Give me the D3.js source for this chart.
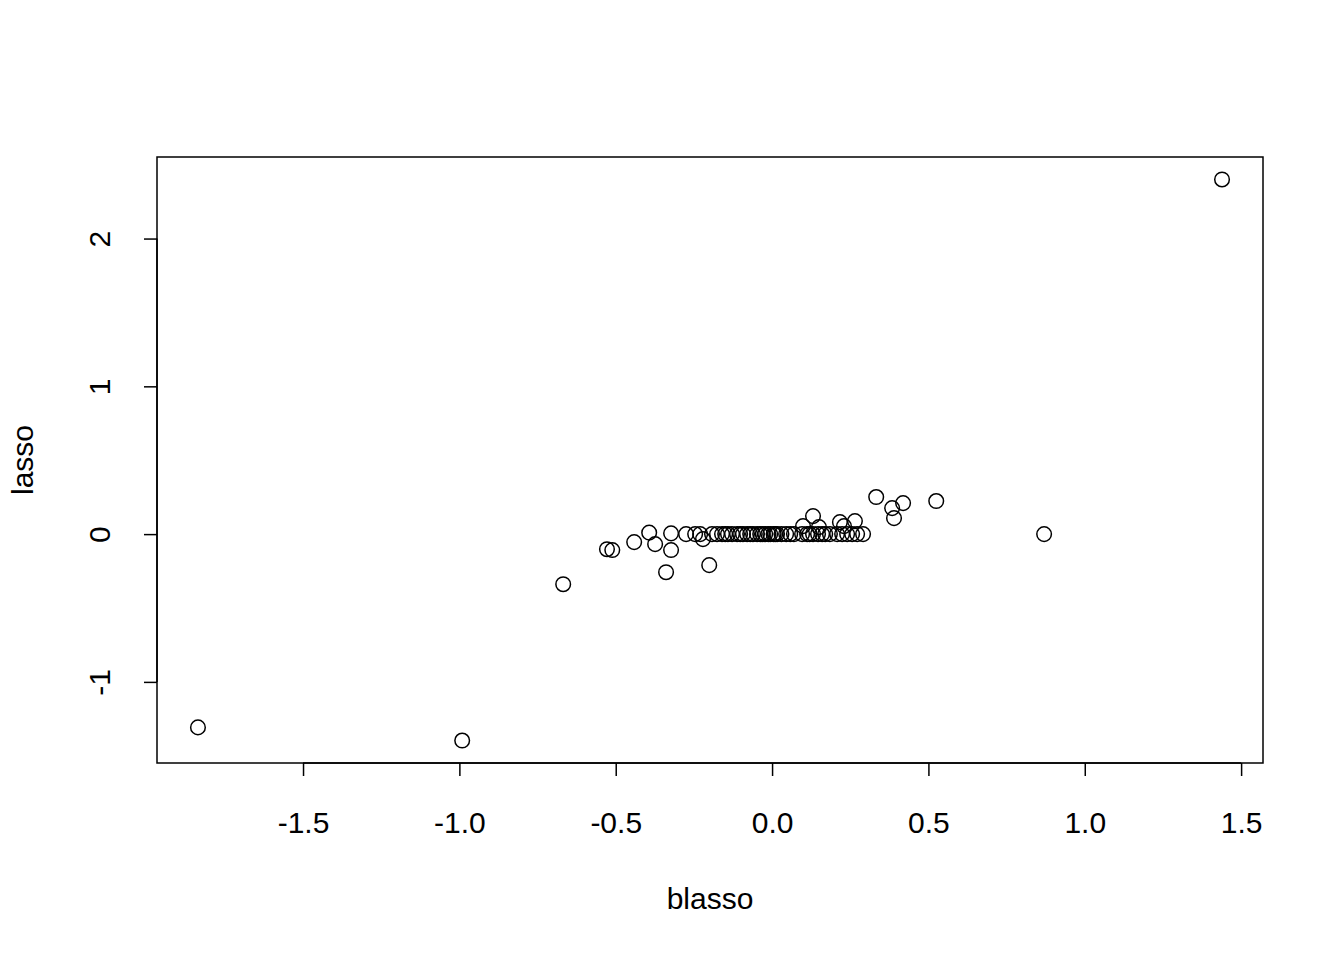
<!DOCTYPE html>
<html><head><meta charset="utf-8">
<script src="https://cdn.jsdelivr.net/npm/d3@7"></script>
<style>body{margin:0;background:#fff}svg{display:block}</style>
</head><body>
<script>
const blasso = [-1.836,-0.991,-0.668,-0.528,-0.511,-0.441,-0.393,-0.374,-0.339,-0.323,-0.323,-0.275,-0.246,-0.221,-0.201,-0.230,
  -0.192,-0.176,-0.160,-0.150,-0.141,-0.128,-0.112,-0.102,-0.093,-0.080,-0.070,-0.061,-0.048,-0.038,-0.030,-0.022,-0.012,-0.006,0.005,0.010,0.016,0.030,0.045,0.058,0.070,0.096,0.112,0.120,0.131,0.147,0.160,0.170,0.185,0.208,0.224,0.240,0.256,0.272,0.291,
  0.099,0.131,0.150,0.217,0.230,0.265,0.333,0.384,0.390,0.419,0.525,0.870,1.439];
const lasso = [-1.308,-1.397,-0.339,-0.102,-0.108,-0.054,0.010,-0.068,-0.258,0.005,-0.108,0,0,-0.034,-0.210,0,
  0,0,0,0,0,0,0,0,0,0,0,0,0,0,0,0,0,0,0,0,0,0,0,0,0,0,0,0,0,0,0,0,0,0,0,0,0,0,0,
  0.054,0.122,0.047,0.081,0.054,0.088,0.251,0.176,0.108,0.210,0.224,0,2.400];
const xTicks = [-1.5,-1.0,-0.5,0.0,0.5,1.0,1.5];
const yTicks = [-1,0,1,2];
const xLabel = "blasso", yLabel = "lasso";

const W=1344,H=960, L=157,R=1263,T=157,B=763;
const svg=d3.select("body").append("svg").attr("width",W).attr("height",H);
function ext(a){const [mn,mx]=d3.extent(a);const p=(mx-mn)*0.04;return [mn-p,mx+p];}
const x=d3.scaleLinear().domain(ext(blasso)).range([L,R]);
const y=d3.scaleLinear().domain(ext(lasso)).range([B,T]);
const font="'Liberation Sans', Arial, Helvetica, sans-serif";
const FS=30;
const hy=s=>s.replace("\u2212","-");

svg.append("rect").attr("x",L).attr("y",T).attr("width",R-L).attr("height",B-T)
  .attr("fill","none").attr("stroke","#000").attr("stroke-width",1.5);

const xa=svg.append("g").attr("transform",`translate(0,${B})`)
  .call(d3.axisBottom(x).tickValues(xTicks).tickSize(13).tickPadding(57).tickFormat(d=>hy(d3.format(".1f")(d))).tickSizeOuter(0));
xa.select(".domain").attr("d",`M${x(xTicks[0])},0H${x(xTicks[xTicks.length-1])}`).attr("stroke-width",1.5);
xa.selectAll(".tick line").attr("stroke-width",1.5);
xa.selectAll("text").attr("font-family",font).attr("font-size",FS).attr("fill","#000").attr("dy","0");

const ya=svg.append("g").attr("transform",`translate(${L},0)`)
  .call(d3.axisLeft(y).tickValues(yTicks).tickSize(13).tickFormat(d=>hy(d3.format("d")(d))).tickSizeOuter(0));
ya.select(".domain").attr("d",`M0,${y(yTicks[0])}V${y(yTicks[yTicks.length-1])}`).attr("stroke-width",1.5);
ya.selectAll(".tick line").attr("stroke-width",1.5);
ya.selectAll("text").remove();
ya.selectAll(".tick").append("text").text(d=>hy(d3.format("d")(d)))
  .attr("transform","translate(-47,0) rotate(-90)").attr("text-anchor","middle")
  .attr("font-family",font).attr("font-size",FS).attr("fill","#000");

svg.append("text").text(xLabel).attr("x",(L+R)/2).attr("y",909)
  .attr("text-anchor","middle").attr("font-family",font).attr("font-size",FS);
svg.append("text").text(yLabel).attr("transform",`translate(33,${(T+B)/2}) rotate(-90)`)
  .attr("text-anchor","middle").attr("font-family",font).attr("font-size",FS);

svg.append("g").selectAll("circle").data(blasso.map((b,i)=>[b,lasso[i]])).join("circle")
  .attr("cx",d=>x(d[0])).attr("cy",d=>y(d[1])).attr("r",7.3)
  .attr("fill","none").attr("stroke","#000").attr("stroke-width",1.5);
</script>
</body></html>
